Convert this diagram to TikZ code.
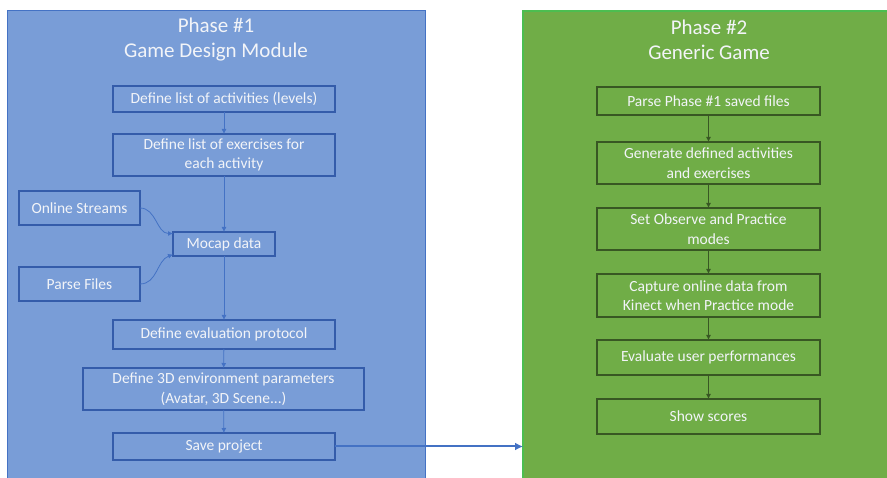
\documentclass[tikz,border=0pt]{standalone}
\usepackage{fontspec}
\setmainfont{Carlito}
\usetikzlibrary{arrows.meta}

\definecolor{panelblue}{RGB}{121,157,215}
\definecolor{edgeblue}{RGB}{52,92,170}
\definecolor{linkblue}{RGB}{68,114,196}
\definecolor{panelgreen}{RGB}{112,173,71}
\definecolor{edgegreen}{RGB}{56,87,35}
\definecolor{rimgreen}{RGB}{76,190,80}
\definecolor{boxtext}{RGB}{242,244,248}

\begin{document}
\begin{tikzpicture}[x=1pt,y=-1pt,
  every node/.style={inner sep=0pt, outer sep=0pt, text=boxtext, align=center},
  title/.style={font=\fontsize{21}{25}\selectfont},
  bluebox/.style={draw=edgeblue, line width=1.4pt, minimum width=222pt, font=\fontsize{15.5}{19.5}\selectfont},
  greenbox/.style={draw=edgegreen, line width=1.4pt, minimum width=223pt, font=\fontsize{15.5}{19.5}\selectfont},
  bluelink/.style={draw=linkblue, line width=0.8pt, -{Latex[length=5pt,width=5pt]}},
  greenlink/.style={draw=edgegreen, line width=0.8pt, -{Latex[length=5pt,width=5pt]}}]
\useasboundingbox (0,0) rectangle (887,478);

\node[fill=panelblue, draw=linkblue, line width=1pt, minimum width=418pt, minimum height=475pt] (ph1) at (216,248.5) {};
\node[fill=panelgreen, draw=rimgreen, line width=1.2pt, minimum width=370pt, minimum height=475pt] (ph2) at (708,248.5) {};

\node[title] (t1) at (216,39.5) {Phase \#1\\Game Design Module};
\node[title] (t2) at (709,39.5) {Phase \#2\\Generic Game};

\node[bluebox, minimum height=26pt] (acts) at (224,99) {Define list of activities (levels)};
\node[bluebox, minimum height=42pt] (exos) at (224,155) {Define list of exercises for\\each activity};
\node[bluebox, minimum width=121pt, minimum height=34pt] (online) at (79.5,208) {Online Streams};
\node[bluebox, minimum width=102pt, minimum height=24pt] (mocap) at (224,244) {Mocap data};
\node[bluebox, minimum width=121pt, minimum height=34pt] (files) at (79.5,284) {Parse Files};
\node[bluebox, minimum height=29pt] (eval) at (224,334.5) {Define evaluation protocol};
\node[bluebox, minimum width=281pt, minimum height=42pt] (env) at (223.5,389) {Define 3D environment parameters\\(Avatar, 3D Scene...)};
\node[bluebox, minimum height=27pt] (save) at (224,446.5) {Save project};

\node[greenbox, minimum height=28pt] (parse) at (708.5,101) {Parse Phase \#1 saved files};
\node[greenbox, minimum height=42pt] (gen) at (708.5,163) {Generate defined activities\\and exercises};
\node[greenbox, minimum height=42pt] (modes) at (708.5,229) {Set Observe and Practice\\modes};
\node[greenbox, minimum height=43pt] (capture) at (708.5,295.5) {Capture online data from\\Kinect when Practice mode};
\node[greenbox, minimum height=35pt] (perf) at (708.5,357.5) {Evaluate user performances};
\node[greenbox, minimum height=35pt] (scores) at (708.5,416.5) {Show scores};

\draw[bluelink] (acts) -- (exos);
\draw[bluelink] (exos) -- (mocap);
\draw[bluelink] (online.east) to[out=0,in=180] ([yshift=-1.5pt]mocap.north west);
\draw[bluelink] (files.east) to[out=0,in=200] ([yshift=1.5pt]mocap.south west);
\draw[bluelink] (mocap) -- (eval);
\draw[bluelink] (eval) -- (env);
\draw[bluelink] (env) -- (save);
\draw[draw=linkblue, line width=2pt, -{Latex[length=8pt,width=8pt]}] (save.east) -- (ph2.west |- save.east);

\draw[greenlink] (parse) -- (gen);
\draw[greenlink] (gen) -- (modes);
\draw[greenlink] (modes) -- (capture);
\draw[greenlink] (capture) -- (perf);
\draw[greenlink] (perf) -- (scores);
\end{tikzpicture}
\end{document}
